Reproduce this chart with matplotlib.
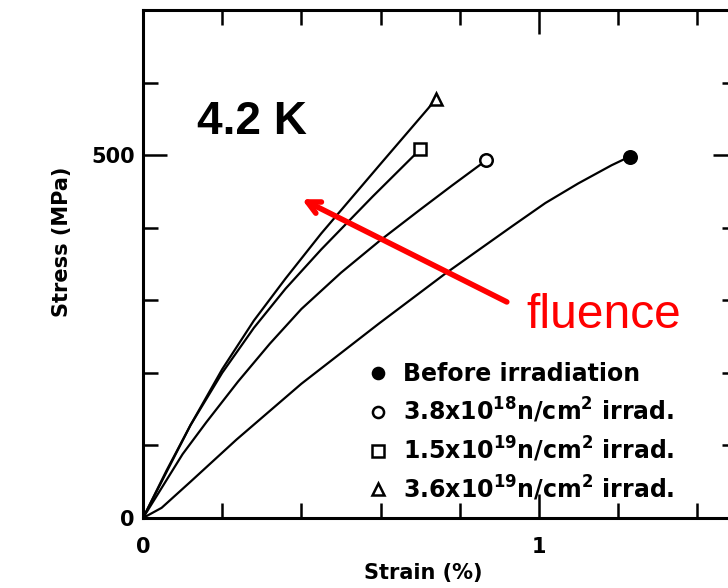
import numpy as np
import matplotlib
matplotlib.use("Agg")
import matplotlib.pyplot as plt
from matplotlib.lines import Line2D

plt.rcParams["font.family"] = ["DejaVu Sans"]
plt.rcParams["mathtext.default"] = "bf"

### Data (strain in %, stress in MPa)
strain_before = [0, 0.047, 0.12, 0.236, 0.4, 0.596, 0.764, 0.932, 1.016, 1.099, 1.183, 1.229]
stress_before = [0, 14, 50, 108, 185, 268, 337, 402, 434, 461, 486, 498]

strain_38e18 = [0, 0.1, 0.16, 0.24, 0.32, 0.4, 0.5, 0.6, 0.7, 0.78, 0.867]
stress_38e18 = [0, 88, 132, 188, 240, 288, 338, 383, 425, 458, 493]

strain_15e19 = [0, 0.06, 0.12, 0.2, 0.28, 0.36, 0.45, 0.58, 0.70]
stress_15e19 = [0, 64, 128, 200, 262, 316, 370, 443, 508]

strain_36e19 = [0, 0.06, 0.12, 0.2, 0.28, 0.36, 0.45, 0.6, 0.74]
stress_36e19 = [0, 66, 128, 205, 272, 330, 392, 488, 577]

labels = [
    "Before irradiation",
    r"3.8x10$^{18}$n/cm$^{2}$ irrad.",
    r"1.5x10$^{19}$n/cm$^{2}$ irrad.",
    r"3.6x10$^{19}$n/cm$^{2}$ irrad.",
]
markers = ["o", "o", "s", "^"]
facecolors = ["black", "white", "white", "white"]

### Figure
fig = plt.figure(figsize=(7.28, 5.88), dpi=100)
ax = fig.add_axes([143 / 728, 70 / 588, 594 / 728, 508 / 588])

curves = [
    (strain_before, stress_before),
    (strain_38e18, stress_38e18),
    (strain_15e19, stress_15e19),
    (strain_36e19, stress_36e19),
]
for (xs, ys), m, fc in zip(curves, markers, facecolors):
    ax.plot(xs, ys, color="black", lw=1.6, solid_joinstyle="round")
    ax.plot(xs[-1], ys[-1], marker=m, ms=9, mfc=fc, mec="black", mew=1.8,
            linestyle="none")

ax.set_xlim(0, 1.5)
ax.set_ylim(0, 700)

# ticks: inward on all four sides
ax.set_xticks([0, 1])
ax.set_xticks(np.arange(0, 1.51, 0.2), minor=True)
ax.set_yticks([0, 500])
ax.set_yticks([100, 200, 300, 400, 600], minor=True)
ax.tick_params(which="both", direction="in", top=True, right=True, width=1.8)
ax.tick_params(which="major", length=17)
ax.tick_params(which="minor", length=11)
ax.tick_params(axis="x", which="major", pad=14, labelsize=15)
ax.tick_params(axis="y", which="major", pad=6, labelsize=15)
for lab in ax.get_xticklabels() + ax.get_yticklabels():
    lab.set_fontweight("bold")
for sp in ax.spines.values():
    sp.set_linewidth(2.2)

ax.set_xlabel("Strain (%)", fontsize=15, fontweight="bold", va="top")
ax.xaxis.set_label_coords(0.471, -0.088)
ax.set_ylabel("Stress (MPa)", fontsize=15, fontweight="bold")
ax.yaxis.set_label_coords(-0.12, 0.543)

### Annotations
ax.text(0.136, 529, "4.2 K", fontsize=33, fontweight="bold",
        family="Liberation Sans", va="baseline", ha="left")
ax.annotate("", xy=(0.395, 441), xytext=(0.925, 296),
            arrowprops=dict(arrowstyle="->,head_length=0.9,head_width=0.45",
                            color="red", lw=4))
ax.text(0.969, 262, "fluence", fontsize=34.5, color="red",
        family="Liberation Sans", va="baseline", ha="left")

### Legend
handles = [
    Line2D([], [], marker=m, linestyle="none", ms=8, mfc=fc, mec="black", mew=1.8)
    for m, fc in zip(markers, facecolors)
]
leg = ax.legend(handles, labels, loc="lower left", bbox_to_anchor=(0.380, 0.03),
                frameon=False, handlelength=0.8, handletextpad=0.64,
                labelspacing=0.41, borderpad=0, borderaxespad=0,
                prop={"size": 17, "weight": "bold"})

fig.savefig("out.png", dpi=100)
